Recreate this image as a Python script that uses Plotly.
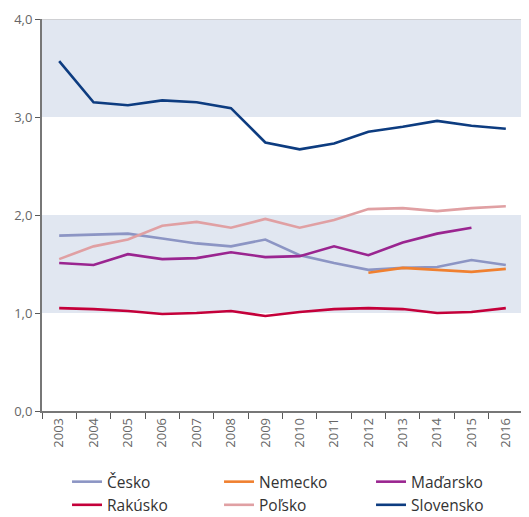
import plotly.graph_objects as go

years = [str(y) for y in range(2003, 2017)]

cesko = [1.79, 1.80, 1.81, 1.76, 1.71, 1.68, 1.75, 1.59, 1.51, 1.44, 1.46, 1.47, 1.54, 1.49]
nemecko = [None] * 9 + [1.41, 1.46, 1.44, 1.42, 1.45]
madarsko = [1.51, 1.49, 1.60, 1.55, 1.56, 1.62, 1.57, 1.58, 1.68, 1.59, 1.72, 1.81, 1.87, None]
rakusko = [1.05, 1.04, 1.02, 0.99, 1.00, 1.02, 0.97, 1.01, 1.04, 1.05, 1.04, 1.00, 1.01, 1.05]
polsko = [1.55, 1.68, 1.75, 1.89, 1.93, 1.87, 1.96, 1.87, 1.95, 2.06, 2.07, 2.04, 2.07, 2.09]
slovensko = [3.57, 3.15, 3.12, 3.17, 3.15, 3.09, 2.74, 2.67, 2.73, 2.85, 2.90, 2.96, 2.91, 2.88]

series = [
    ("Česko", cesko, "#8C95C4"),
    ("Nemecko", nemecko, "#F08030"),
    ("Maďarsko", madarsko, "#9A2590"),
    ("Rakúsko", rakusko, "#C4003A"),
    ("Poľsko", polsko, "#E0A0A3"),
    ("Slovensko", slovensko, "#0D3C80"),
]

fig = go.Figure()
for name, vals, col in series:
    fig.add_trace(go.Scatter(x=years, y=vals, name=name, mode="lines",
                             line=dict(color=col, width=2.6), connectgaps=False))

band = "#E1E7F1"
for y0, y1 in [(1, 2), (3, 4)]:
    fig.add_shape(type="rect", xref="paper", yref="y", x0=0, x1=1, y0=y0, y1=y1,
                  fillcolor=band, line_width=0, layer="below")
fig.add_shape(type="line", xref="paper", yref="y", x0=0, x1=1, y0=4, y1=4,
              line=dict(color="#C8C8C8", width=1.5), layer="below")
fig.add_shape(type="line", xref="paper", yref="y", x0=1, x1=1, y0=0, y1=4,
              line=dict(color="#C8C8C8", width=1.5), layer="below")

fig.update_layout(
    width=521, height=509,
    margin=dict(l=34, r=6, t=11, b=106, autoexpand=False),
    plot_bgcolor="white", paper_bgcolor="white",
    separators=", ",
    font=dict(family="Open Sans", color="#595959"),
    showlegend=True,
    legend=dict(orientation="h", xref="container", yref="container",
                x=0.1133, xanchor="left", y=0.102, yanchor="top",
                entrywidth=107, entrywidthmode="pixels", itemwidth=30,
                font=dict(size=15.5, color="#333333"), tracegroupgap=0,
                itemclick=False, bgcolor="rgba(0,0,0,0)"),
    xaxis=dict(type="category", tickson="boundaries", ticks="outside", ticklen=6,
               tickcolor="#595959", tickwidth=1.2, showline=True, linecolor="#777777",
               linewidth=1.5, showgrid=False, tickangle=-90,
               tickfont=dict(size=13, color="#666666"), range=[-0.5, 13.5]),
    yaxis=dict(range=[0, 4], tickvals=[0, 1, 2, 3, 4], tickformat=".1f",
               ticks="outside", ticklen=5, tickcolor="#595959", showline=True,
               linecolor="#777777", linewidth=2, showgrid=False, zeroline=False,
               tickfont=dict(size=13, color="#666666")),
)

fig.write_html("out.html")
